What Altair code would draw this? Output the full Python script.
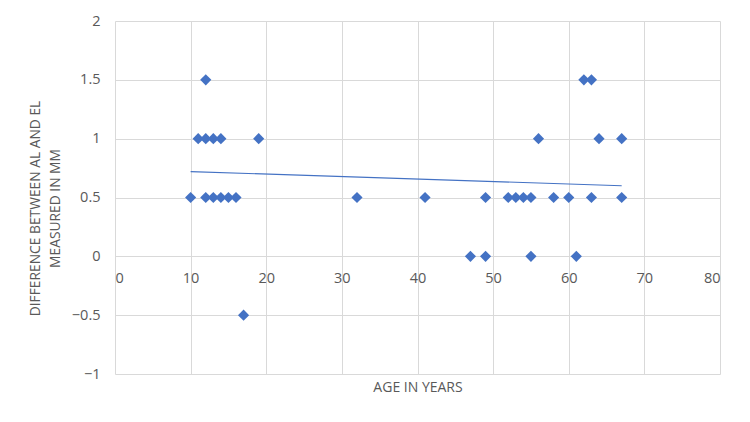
import altair as alt
import pandas as pd

ages = [10, 11, 12, 13, 14, 12, 12, 13, 14, 15, 16, 19, 17, 32, 41,
        47, 49, 49, 52, 53, 54, 55, 55, 56, 58, 60, 61, 62, 63, 63, 64, 67, 67]
diffs = [0.5, 1, 1, 1, 1, 1.5, 0.5, 0.5, 0.5, 0.5, 0.5, 1, -0.5, 0.5, 0.5,
         0, 0, 0.5, 0.5, 0.5, 0.5, 0.5, 0, 1, 0.5, 0.5, 0, 1.5, 1.5, 0.5, 1, 1, 0.5]

trend_x = [10, 67]
trend_y = [0.72, 0.60]

pts = pd.DataFrame({"age": ages, "diff": diffs})
trend = pd.DataFrame({"age": trend_x, "diff": trend_y})

FONT = "Open Sans"
GRAY = "#595959"
BLUE = "#4472C4"

x_scale = alt.Scale(domain=[0, 80], nice=False, zero=False)
y_scale = alt.Scale(domain=[-1, 2], nice=False, zero=False)

x_axis = alt.Axis(
    values=[0, 10, 20, 30, 40, 50, 60, 70, 80],
    offset=-118, domain=False, ticks=False, labelPadding=15,
    labelFontSize=14.5, labelColor=GRAY, labelFont=FONT,
    gridColor="#D9D9D9", gridWidth=1,
    title="AGE IN YEARS", titleFont=FONT, titleFontSize=14,
    titleFontWeight="normal", titleColor=GRAY, titleY=131,
    titleBaseline="middle",
)
y_axis = alt.Axis(
    values=[-1, -0.5, 0, 0.5, 1, 1.5, 2], format="~g",
    domain=False, ticks=False, labelPadding=15,
    labelFontSize=14.5, labelColor=GRAY, labelFont=FONT,
    gridColor="#D9D9D9", gridWidth=1,
    title=["DIFFERENCE BETWEEN AL AND EL", "MEASURED IN MM"],
    titleFont=FONT, titleFontSize=13.8, titleFontWeight="normal",
    titleColor=GRAY, titleX=-87, titleY=187, titleBaseline="top",
    titleAngle=270, titleLineHeight=20, titleAlign="center",
)

points = alt.Chart(pts).mark_point(
    shape="diamond", filled=True, size=125, color=BLUE, opacity=1
).encode(
    x=alt.X("age:Q", scale=x_scale, axis=x_axis),
    y=alt.Y("diff:Q", scale=y_scale, axis=y_axis),
)

line = alt.Chart(trend).mark_line(color=BLUE, strokeWidth=1.2).encode(
    x=alt.X("age:Q", scale=x_scale),
    y=alt.Y("diff:Q", scale=y_scale),
)

chart = alt.layer(line, points).properties(
    width=605, height=353,
    autosize=alt.AutoSizeParams(type="none"),
    padding={"left": 107, "top": 13, "right": 22, "bottom": 40},
    background="white",
).configure_view(stroke=None)

chart.save("out.html", embed_options={"renderer": "svg", "actions": False})
